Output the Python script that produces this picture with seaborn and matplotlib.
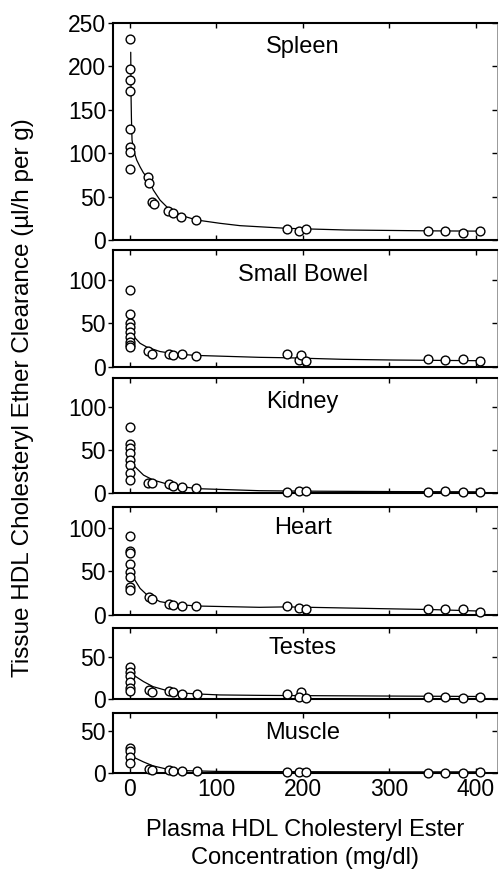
import matplotlib
matplotlib.use("Agg")
import matplotlib.pyplot as plt
import seaborn as sns

# ---------------- data ----------------
organs = ["Spleen", "Small Bowel", "Kidney", "Heart", "Testes", "Muscle"]

spleen_x = [0, 0, 0, 0, 0, 0, 0, 0, 21.6, 22.7, 25.4, 27.7, 44.7, 50.5, 59.7, 76.7,
            182, 196, 203.5, 345, 365, 385, 405]
spleen_y = [231, 197, 184, 171, 128, 107, 101, 82, 72, 66, 44, 41, 33, 31, 26, 23,
            13, 10, 13, 10, 10, 8, 10]
spleen_fit_x = [1.2, 1.5, 2.0, 2.7, 5.0, 8.1, 11.9, 15.8, 22.3, 27.3, 35, 44.6, 58.1,
                77.4, 104.4, 127.5, 182, 250, 300, 350, 405]
spleen_fit_y = [216, 170, 140, 115, 101.5, 92, 84.3, 77.4, 69, 57.5, 46, 36.4, 28.7,
                23, 19.2, 16.5, 13.4, 11.5, 11, 10.5, 10.2]

bowel_x = [0, 0, 0, 0, 0, 0, 0, 0, 0, 21.5, 25.4, 45.2, 50.3, 59.9, 77.2,
           182, 195.3, 197.6, 203.4, 345, 365, 385, 405]
bowel_y = [88, 61, 50, 46, 40, 34, 29, 25, 23, 18, 14.6, 14.6, 13.5, 14.6, 12,
           14.6, 7.7, 13.5, 6.9, 8.8, 7.7, 8.8, 6.5]
bowel_fit_x = [1, 4, 12, 20, 35, 54, 77, 150, 182, 247, 305, 405]
bowel_fit_y = [42, 35.5, 27, 22.5, 17.5, 14.6, 13, 10.8, 10.3, 8.5, 7.7, 6.9]

kidney_x = [0, 0, 0, 0, 0, 0, 0, 0, 21.5, 25.4, 45.2, 50.3, 59.9, 77.2,
            182, 196, 203.4, 345, 365, 385, 405]
kidney_y = [76, 57, 52, 46, 39, 33, 24, 15, 12.3, 12.3, 10.7, 8.4, 6.9, 5.8,
            1.9, 2.7, 3.1, 1.2, 2.7, 1.5, 1.2]
kidney_fit_x = [1, 6, 16, 27, 47, 77, 150, 200, 300, 405]
kidney_fit_y = [40.5, 30.7, 21, 15.4, 9.6, 5.4, 3.0, 2.5, 2.0, 1.7]

heart_x = [0, 0, 0, 0, 0, 0, 0, 0, 22.7, 25.4, 45.2, 50.3, 59.9, 77.2,
           182, 196, 203.4, 345, 365, 385, 405]
heart_y = [90, 73, 71, 58, 49, 44, 32, 29, 21, 18.3, 12.6, 11.5, 10.7, 10.7,
           10.3, 8.4, 7.3, 7.3, 6.5, 6.5, 3.4]
heart_fit_x = [2, 6, 12, 20, 35, 54, 77, 150, 182, 250, 305, 350, 405]
heart_fit_y = [51, 40, 30.5, 23, 15.3, 12.2, 10.3, 8.8, 9.3, 8, 7, 6.2, 4.5]

testes_x = [0, 0, 0, 0, 0, 0, 22.7, 26.1, 45.4, 49.7, 60, 77.4,
            182, 197.6, 196, 203.4, 345, 365, 385, 405]
testes_y = [38, 32, 27, 20, 13, 10, 10.9, 9, 9.8, 8.2, 6.3, 6.3,
            5.9, 8.2, 3.1, 1.2, 3.1, 3.1, 2, 3.1]
testes_fit_x = [2, 4, 16, 27, 43, 66, 77, 104, 150, 200, 300, 405]
testes_fit_y = [29, 28.5, 20.7, 14.8, 10.2, 7, 6.3, 5.1, 4.6, 4.3, 3.8, 3.3]

muscle_x = [0, 0, 0, 0, 22.7, 26.1, 45.4, 49.7, 60, 77.4, 182, 196, 203.4,
            345, 365, 385, 405]
muscle_y = [30, 26, 19, 12, 5, 3.5, 3, 2, 1.5, 1.5, 0.8, 0.8, 0.8, 0, 0, 0, 0.8]
muscle_fit_x = [2, 4, 16, 27, 43, 66, 104, 200, 300, 405]
muscle_fit_y = [19.5, 18.8, 12.9, 8.2, 4.3, 2.4, 1.5, 1.2, 1.0, 1.0]

points = [(spleen_x, spleen_y), (bowel_x, bowel_y), (kidney_x, kidney_y),
          (heart_x, heart_y), (testes_x, testes_y), (muscle_x, muscle_y)]
fits = [(spleen_fit_x, spleen_fit_y), (bowel_fit_x, bowel_fit_y),
        (kidney_fit_x, kidney_fit_y), (heart_fit_x, heart_fit_y),
        (testes_fit_x, testes_fit_y), (muscle_fit_x, muscle_fit_y)]

y_max = [250, 134.6, 132.8, 124, 83, 72]
y_ticks = [[0, 50, 100, 150, 200, 250], [0, 50, 100], [0, 50, 100], [0, 50, 100],
           [0, 50], [0, 50]]
x_ticks = [0, 100, 200, 300, 400]

x_label_1 = "Plasma HDL Cholesteryl Ester"
x_label_2 = "Concentration (mg/dl)"
y_label = "Tissue HDL Cholesteryl Ether Clearance (\u00b5l/h per g)"

# ---------------- layout ----------------
sns.set_style("ticks")
plt.rcParams["font.family"] = ["Liberation Sans", "DejaVu Sans"]
for key in ["text.color", "axes.labelcolor", "xtick.color", "ytick.color",
            "axes.edgecolor"]:
    plt.rcParams[key] = "black"
FS_TICK = 16.5
FS_TITLE = 17
FS_XLAB = 17
FS_YLAB = 17.5

W, H = 499, 871
fig = plt.figure(figsize=(W / 100, H / 100), dpi=100)

panel_px = [(22.7, 240), (250, 366.7), (378.3, 493.3), (506.7, 615),
            (628.3, 699.3), (712.7, 772.7)]
title_off = [17.3, 18.0, 16.8, 15.3, 14.2, 14.6]
left_px, right_px = 113, 497

for i, name in enumerate(organs):
    top, bot = panel_px[i]
    ax = fig.add_axes([left_px / W, 1 - bot / H, (right_px - left_px) / W, (bot - top) / H])
    px, py = points[i]
    fx, fy = fits[i]
    sns.lineplot(x=fx, y=fy, ax=ax, color="black", lw=0.9, sort=False,
                 estimator=None, zorder=2)
    sns.scatterplot(x=px, y=py, ax=ax, marker="o", s=40, facecolor="white",
                    edgecolor="black", linewidth=1.0, zorder=3, clip_on=False)
    ax.set_xlim(-19.3, 424.6)
    ax.set_ylim(0, y_max[i])
    ax.set_xticks(x_ticks)
    ax.set_yticks(y_ticks[i])
    ax.tick_params(axis="x", direction="in", top=True, bottom=True, length=3.8,
                   width=1.0, labelsize=FS_TICK, pad=4.0, colors="black",
                   labelbottom=(i == len(organs) - 1))
    ax.tick_params(axis="y", direction="out", left=True, right=False, length=3.8,
                   width=1.0, labelsize=FS_TICK, pad=1.2, colors="black")
    sec = ax.secondary_yaxis("right")
    sec.set_yticks(y_ticks[i])
    sec.tick_params(direction="in", length=3.8, width=1.0, labelright=False,
                    colors="black")
    sec.spines["right"].set_linewidth(0.7)
    sec.spines["right"].set_color("0.6")
    for s in ["left", "top", "bottom"]:
        ax.spines[s].set_linewidth(1.5)
        ax.spines[s].set_color("black")
        ax.spines[s].set_visible(True)
    ax.spines["right"].set_visible(False)
    ax.set_xlabel("")
    ax.set_ylabel("")
    ax.annotate(name, xy=(200, 1), xycoords=("data", "axes fraction"),
                xytext=(0, -title_off[i]), textcoords="offset points",
                ha="center", va="center", fontsize=FS_TITLE, color="black")

fig.text(305 / W, 1 - 830 / H, x_label_1, ha="center", va="center",
         fontsize=FS_XLAB, color="black")
fig.text(305 / W, 1 - 858 / H, x_label_2, ha="center", va="center",
         fontsize=FS_XLAB, color="black")
fig.text(23 / W, 1 - 397.5 / H, y_label, ha="center", va="center", rotation=90,
         fontsize=FS_YLAB, color="black")

fig.savefig("out.png", dpi=100)
